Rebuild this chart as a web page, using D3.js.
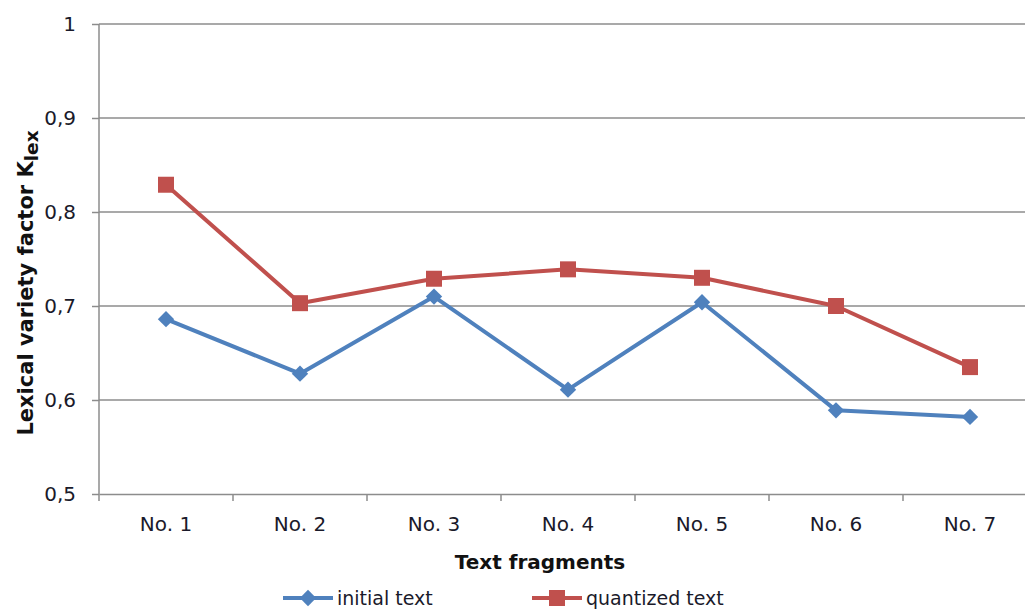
<!DOCTYPE html>
<html>
<head>
<meta charset="utf-8">
<script src="https://cdn.jsdelivr.net/npm/d3@7"></script>
<style>
  body { margin: 0; background: #fff; }
  svg { display: block; font-family: "DejaVu Sans", Verdana, sans-serif; }
</style>
</head>
<body>
<svg id="chart"></svg>
<script>
// chart data
const fragments = ["No. 1", "No. 2", "No. 3", "No. 4", "No. 5", "No. 6", "No. 7"];
const initialText = [0.686, 0.628, 0.710, 0.611, 0.704, 0.589, 0.582];
const quantizedText = [0.829, 0.703, 0.729, 0.739, 0.730, 0.700, 0.635];
const yTicks = [0.5, 0.6, 0.7, 0.8, 0.9, 1];

const w = 1025;
const h = 610;
const margin = { top: 24, right: -12, bottom: 116, left: 99 };
const width = w - margin.left - margin.right;
const height = h - margin.top - margin.bottom;

const blue = "#4f81bd";
const red = "#c0504d";
const grid = "#8c8c8c";
const font = "'DejaVu Sans', Verdana, sans-serif";

const svg = d3.select("#chart").attr("width", w).attr("height", h);
const g = svg.append("g").attr("transform", `translate(${margin.left},${margin.top})`);

const x = d3.scaleBand().domain(fragments).range([0, width]);
const y = d3.scaleLinear().domain([0.5, 1]).range([height, 0]);

// gridlines
g.selectAll("line.grid")
  .data(yTicks.slice(1))
  .enter()
  .append("line")
  .attr("class", "grid")
  .attr("x1", 0)
  .attr("x2", width)
  .attr("y1", (d) => y(d))
  .attr("y2", (d) => y(d))
  .attr("stroke", grid)
  .attr("stroke-width", 1.5);

// y axis
const yAxis = g.append("g")
  .call(d3.axisLeft(y).tickValues(yTicks).tickSize(7).tickPadding(16)
    .tickFormat((d) => (d === 1 ? "1" : d3.format(".1f")(d).replace(".", ","))));
yAxis.attr("font-size", null).attr("font-family", null);
yAxis.select(".domain").attr("stroke", grid).attr("stroke-width", 1.5).attr("d", `M0,0V${height}`);
yAxis.selectAll(".tick line").attr("stroke", grid).attr("stroke-width", 1.5);
yAxis.selectAll(".tick text").style("font-size", "20px").style("font-family", font).attr("fill", "#1a1a2a");

// x axis
const xAxis = g.append("g")
  .attr("transform", `translate(0,${height})`)
  .call(d3.axisBottom(x).tickSize(0).tickPadding(23));
xAxis.attr("font-size", null).attr("font-family", null);
xAxis.select(".domain").attr("stroke", grid).attr("stroke-width", 1.5);
xAxis.selectAll(".tick text").style("font-size", "20px").style("font-family", font).attr("fill", "#1a1a2a");
g.append("g")
  .selectAll("line")
  .data(fragments)
  .enter()
  .append("line")
  .attr("x1", (d) => x(d))
  .attr("x2", (d) => x(d))
  .attr("y1", height)
  .attr("y2", height + 7)
  .attr("stroke", grid)
  .attr("stroke-width", 1.5);

// axis titles
svg.append("text")
  .attr("x", 540)
  .attr("y", 569)
  .attr("text-anchor", "middle")
  .style("font-size", "20px")
  .attr("font-weight", "bold")
  .attr("fill", "#111")
  .text("Text fragments");

const yt = svg.append("text")
  .attr("transform", "translate(33,283) rotate(-90)")
  .attr("text-anchor", "middle")
  .style("font-size", "21px")
  .attr("font-weight", "bold")
  .attr("fill", "#111");
yt.append("tspan").text("Lexical variety factor K");
yt.append("tspan").attr("dy", 5).style("font-size", "18.5px").text("lex");

// series
const line = d3.line()
  .x((d, i) => x(fragments[i]) + x.bandwidth() / 2)
  .y((d) => y(d));

const series = [
  { name: "initial text", values: initialText, color: blue, shape: d3.symbolDiamond2, size: 170 },
  { name: "quantized text", values: quantizedText, color: red, shape: d3.symbolSquare, size: 256 },
];

series.forEach((s) => {
  g.append("path")
    .datum(s.values)
    .attr("fill", "none")
    .attr("stroke", s.color)
    .attr("stroke-width", 4)
    .attr("stroke-linejoin", "round")
    .attr("d", line);
  g.selectAll(null)
    .data(s.values)
    .enter()
    .append("path")
    .attr("transform", (d, i) => `translate(${x(fragments[i]) + x.bandwidth() / 2},${y(d)})`)
    .attr("d", d3.symbol().type(s.shape).size(s.size))
    .attr("fill", s.color);
});

// legend (kept just inside the bottom edge)
const legendX = [283, 532];
series.forEach((s, i) => {
  const lg = svg.append("g").attr("transform", `translate(${legendX[i]},598)`);
  lg.append("line").attr("x1", 0).attr("x2", 50).attr("stroke", s.color).attr("stroke-width", 4);
  lg.append("path")
    .attr("transform", "translate(25,0)")
    .attr("d", d3.symbol().type(s.shape).size(s.size))
    .attr("fill", s.color);
  lg.append("text")
    .attr("x", 54)
    .attr("y", 7)
    .style("font-size", "19px")
    .attr("fill", "#1a1a2a")
    .text(s.name);
});
</script>
</body>
</html>
